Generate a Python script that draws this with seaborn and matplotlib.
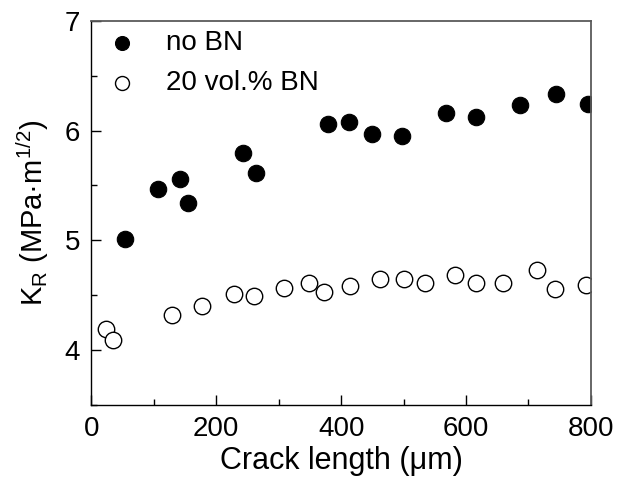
import matplotlib
matplotlib.use("Agg")
import matplotlib.pyplot as plt
from matplotlib.ticker import MultipleLocator
import pandas as pd
import seaborn as sns

# crack length (um) and K_R (MPa m^1/2)
no_bn_x = [53, 107, 142, 155, 242, 263, 379, 413, 449, 497, 568, 616, 687, 744, 796]
no_bn_y = [5.01, 5.47, 5.56, 5.34, 5.80, 5.61, 6.06, 6.08, 5.97, 5.95, 6.16, 6.12, 6.23, 6.33, 6.24]

bn_x = [23, 34, 129, 177, 229, 261, 308, 349, 373, 415, 463, 501, 535, 583, 616, 659, 713, 742, 792]
bn_y = [4.19, 4.09, 4.32, 4.40, 4.51, 4.49, 4.57, 4.61, 4.53, 4.58, 4.65, 4.65, 4.61, 4.68,
        4.61, 4.61, 4.73, 4.56, 4.59]

labels = ["no BN", "20 vol.% BN"]

sns.set_theme(style="white")
plt.rcParams.update(
    {
        "font.family": ["Liberation Sans", "DejaVu Sans"],
        "mathtext.fontset": "custom",
        "mathtext.rm": "Liberation Sans",
        "mathtext.it": "Liberation Sans:italic",
        "text.color": "black",
        "axes.labelcolor": "black",
        "xtick.color": "black",
        "ytick.color": "black",
    }
)

no_bn = pd.DataFrame({"x": no_bn_x, "y": no_bn_y})
bn = pd.DataFrame({"x": bn_x, "y": bn_y})

fig = plt.figure(figsize=(6.18, 4.83), dpi=100)
ax = fig.add_axes([0.148, 0.1615, 0.808, 0.7955])

sns.scatterplot(data=no_bn, x="x", y="y", ax=ax, s=140, color="black",
                edgecolor="black", linewidth=0.8, label=labels[0])
sns.scatterplot(data=bn, x="x", y="y", ax=ax, s=140, facecolor="white",
                edgecolor="black", linewidth=1.0, label=labels[1])

ax.set_xlim(0, 800)
ax.set_ylim(3.5, 7)
ax.xaxis.set_major_locator(MultipleLocator(200))
ax.xaxis.set_minor_locator(MultipleLocator(100))
ax.yaxis.set_major_locator(MultipleLocator(1))
ax.yaxis.set_minor_locator(MultipleLocator(0.5))
ax.tick_params(which="both", direction="in", left=True, bottom=True,
               top=False, right=False, labelsize=20, color="black")
ax.tick_params(which="major", length=7, width=1.0, pad=8)
ax.tick_params(which="minor", length=4, width=1.0)

for side in ["left", "bottom"]:
    ax.spines[side].set_color("black")
    ax.spines[side].set_linewidth(1.0)
for side in ["top", "right"]:
    ax.spines[side].set_color("#5a5a5a")
    ax.spines[side].set_linewidth(1.3)

ax.set_xlabel("Crack length (μm)", fontsize=22, labelpad=3)
ax.set_ylabel("K$_\\mathrm{R}$ (MPa·m$^{1/2}$)", fontsize=21, labelpad=10)

ax.legend(loc="upper left", frameon=False, fontsize=20, markerscale=0.85,
          handlelength=1.0, handletextpad=1.1, borderaxespad=0.0,
          labelspacing=0.5, bbox_to_anchor=(0.011, 1.005))

fig.savefig("out.png", dpi=100)
